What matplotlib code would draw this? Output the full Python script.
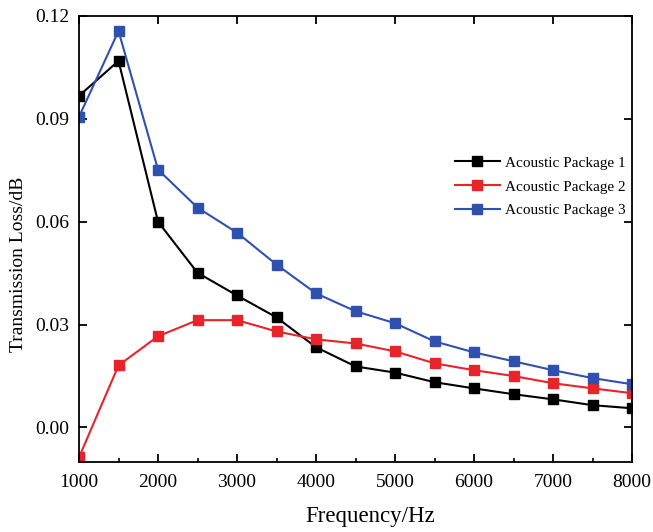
import matplotlib
matplotlib.use("Agg")
import matplotlib.pyplot as plt
from matplotlib.ticker import MultipleLocator, FormatStrFormatter

freq = [1000, 1500, 2000, 2500, 3000, 3500, 4000, 4500, 5000, 5500, 6000, 6500, 7000, 7500, 8000]
pkg1 = [0.0967, 0.1069, 0.0600, 0.0451, 0.0385, 0.0321, 0.0234, 0.0178, 0.0160, 0.0132, 0.0114, 0.0097, 0.0082, 0.0065, 0.0056]
pkg2 = [-0.0087, 0.0181, 0.0266, 0.0313, 0.0313, 0.0280, 0.0257, 0.0245, 0.0222, 0.0187, 0.0167, 0.0150, 0.0129, 0.0114, 0.0100]
pkg3 = [0.0906, 0.1156, 0.0752, 0.0641, 0.0568, 0.0475, 0.0391, 0.0339, 0.0304, 0.0251, 0.0219, 0.0193, 0.0167, 0.0144, 0.0126]
labels = ["Acoustic Package 1", "Acoustic Package 2", "Acoustic Package 3"]
colors = ["#000000", "#E8232A", "#3050B0"]

plt.rcParams['font.family'] = ['Liberation Serif', 'DejaVu Serif']

fig = plt.figure(figsize=(6.53, 5.32), dpi=100)
ax = fig.add_axes([0.121, 0.132, 0.847, 0.838])

for y, lab, c in zip([pkg1, pkg2, pkg3], labels, colors):
    ax.plot(freq, y, color=c, marker='s', markersize=7, linewidth=1.5, label=lab)

ax.set_xlim(1000, 8000)
ax.set_ylim(-0.01, 0.12)
ax.xaxis.set_major_locator(MultipleLocator(1000))
ax.xaxis.set_minor_locator(MultipleLocator(500))
ax.yaxis.set_major_locator(MultipleLocator(0.03))
ax.yaxis.set_major_formatter(FormatStrFormatter('%.2f'))
ax.tick_params(axis='both', which='major', direction='in', length=6, width=1.3,
               labelsize=14, top=True, right=True)
ax.tick_params(axis='x', which='major', pad=9)
ax.tick_params(axis='y', which='major', pad=7)
ax.tick_params(axis='x', which='minor', direction='in', length=3, width=1.2, top=False)
for s in ax.spines.values():
    s.set_linewidth(1.3)

ax.set_xlabel("Frequency/Hz", fontsize=16.5)
ax.xaxis.set_label_coords(0.526, -0.100)
ax.set_ylabel("Transmission Loss/dB", fontsize=14, labelpad=6)
ax.yaxis.label.set_y(0.442)

ax.legend(loc='center right', bbox_to_anchor=(1.013, 0.617), frameon=False,
          fontsize=11, handlelength=3, handletextpad=0.3, labelspacing=0.66)

fig.savefig("out.png", dpi=100)
